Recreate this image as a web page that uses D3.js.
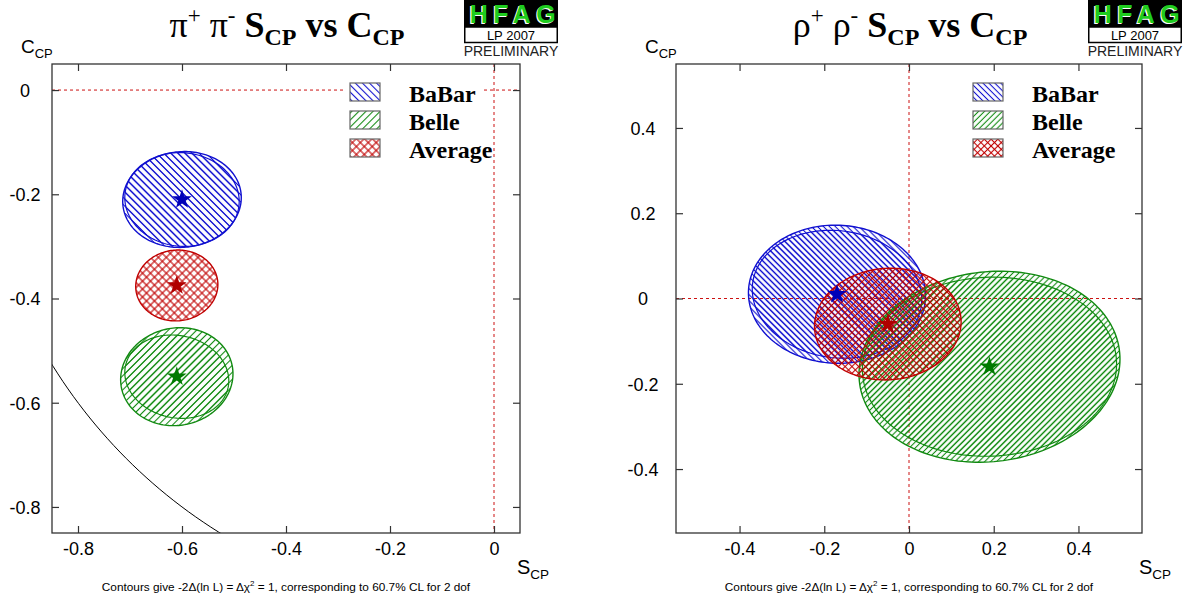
<!DOCTYPE html>
<html><head><meta charset="utf-8">
<script src="https://cdn.jsdelivr.net/npm/d3@7"></script>
<style>body{margin:0;background:#fff} svg{display:block}</style>
</head><body><svg id="c" width="1190" height="602"></svg>
<script>
// ---------------- data ----------------
const experiments = ["BaBar", "Belle", "Average"];
const expColors = ["#1010d0", "#118a11", "#c00000"];
const starColors = ["#0000b8", "#007a00", "#b00000"];

// pi+ pi- : central values, total and statistical errors, correlation
const pipiS = [-0.60, -0.61, -0.61];
const pipiC = [-0.21, -0.55, -0.375];
const pipiSigS = [0.114, 0.108, 0.079];
const pipiSigC = [0.092, 0.094, 0.068];
const pipiRho = [0.04, 0.06, 0.03];
const pipiSigSstat = [0.110, 0.100, null];
const pipiSigCstat = [0.090, 0.080, null];
const pipiRhoStat = [-0.04, -0.10, null];

// rho+ rho- : central values, total and statistical errors, correlation
const rhorhoS = [-0.17, 0.19, -0.05];
const rhorhoC = [0.01, -0.16, -0.06];
const rhorhoSigS = [0.209, 0.308, 0.173];
const rhorhoSigC = [0.162, 0.224, 0.131];
const rhorhoRho = [-0.02, 0.08, 0.04];
const rhorhoSigSstat = [0.200, 0.300, null];
const rhorhoSigCstat = [0.150, 0.210, null];
const rhorhoRhoStat = [-0.08, 0.03, null];

// axes
const pipiDomain = [-0.85, 0.05];
const rhorhoDomain = [-0.55, 0.55];
const pipiTicks = [-0.8, -0.6, -0.4, -0.2, 0];
const rhorhoTicks = [-0.4, -0.2, 0, 0.2, 0.4];
const footnote = "Contours give -2\u0394(ln L) = \u0394\u03c7";

// ---------------- drawing ----------------
const svg = d3.select("#c");
const defs = svg.append("defs");

function makeHatch(id, color, size, angle, cross) {
  const p = defs.append("pattern").attr("id", id)
    .attr("patternUnits", "userSpaceOnUse")
    .attr("width", size).attr("height", size)
    .attr("patternTransform", `rotate(${angle})`);
  p.append("line").attr("x1", size / 2).attr("y1", 0).attr("x2", size / 2).attr("y2", size)
    .attr("stroke", color).attr("stroke-width", 1.1);
  if (cross) p.append("line").attr("x1", 0).attr("y1", size / 2).attr("x2", size).attr("y2", size / 2)
    .attr("stroke", color).attr("stroke-width", 1.1);
}
["L", "R"].forEach((k, i) => {
  const s = i === 0 ? 5 : 4.2;
  makeHatch("h0" + k, expColors[0], s, -45, false);
  makeHatch("h1" + k, expColors[1], s, 45, false);
  makeHatch("h2" + k, expColors[2], s + 0.6, 45, true);
});

function ellipsePath(x, y, s0, c0, sS, sC, rho) {
  const pts = d3.range(0, 361, 2).map(t => {
    const a = t * Math.PI / 180;
    return [x(s0 + sS * Math.cos(a)),
            y(c0 + sC * (rho * Math.cos(a) + Math.sqrt(1 - rho * rho) * Math.sin(a)))];
  });
  return d3.line()(pts) + "Z";
}

function panel(cfg) {
  const x = d3.scaleLinear().domain(cfg.domain).range([cfg.x0, cfg.x1]);
  const y = d3.scaleLinear().domain(cfg.domain).range([533, 64]);
  const g = svg.append("g");
  const clipId = "clip" + cfg.k;
  defs.append("clipPath").attr("id", clipId).append("rect")
    .attr("x", cfg.x0).attr("y", 64).attr("width", cfg.x1 - cfg.x0).attr("height", 469);
  const plot = g.append("g").attr("clip-path", `url(#${clipId})`);

  // zero lines
  plot.append("line").attr("x1", cfg.x0).attr("x2", cfg.x1).attr("y1", y(0)).attr("y2", y(0))
    .attr("stroke", "#cc1111").attr("stroke-width", 1).attr("stroke-dasharray", "3,3");
  plot.append("line").attr("y1", 64).attr("y2", 533).attr("x1", x(0)).attr("x2", x(0))
    .attr("stroke", "#cc1111").attr("stroke-width", 1).attr("stroke-dasharray", "3,3");

  // physical boundary S^2 + C^2 = 1
  if (cfg.boundary) {
    const pts = d3.range(180, 271, 1).map(t => [x(Math.cos(t * Math.PI / 180)), y(Math.sin(t * Math.PI / 180))]);
    plot.append("path").attr("d", d3.line()(pts)).attr("fill", "none").attr("stroke", "#000").attr("stroke-width", 1);
  }

  // ellipses
  const d = cfg.data;
  experiments.forEach((e, i) => {
    plot.append("path").attr("d", ellipsePath(x, y, d.S[i], d.C[i], d.sS[i], d.sC[i], d.rho[i]))
      .attr("fill", `url(#h${i}${cfg.k})`).attr("stroke", expColors[i]).attr("stroke-width", 1.4);
    if (d.sSs[i] !== null) {
      plot.append("path").attr("d", ellipsePath(x, y, d.S[i], d.C[i], d.sSs[i], d.sCs[i], d.rhos[i]))
        .attr("fill", `url(#h${i}${cfg.k})`).attr("stroke", expColors[i]).attr("stroke-width", 1.2);
    }
  });
  experiments.forEach((e, i) => {
    plot.append("path").attr("d", d3.symbol(d3.symbolStar, 120)())
      .attr("transform", `translate(${x(d.S[i])},${y(d.C[i])})`)
      .attr("fill", starColors[i]);
  });

  // frame + axes
  const fmt = v => String(v);
  const bottom = g.append("g").attr("transform", "translate(0,533)")
    .call(d3.axisBottom(x).tickValues(cfg.ticks).tickFormat(fmt).tickSizeInner(-7).tickSizeOuter(0).tickPadding(9));
  const top = g.append("g").attr("transform", "translate(0,64)")
    .call(d3.axisTop(x).tickValues(cfg.ticks).tickFormat("").tickSizeInner(-7).tickSizeOuter(0));
  const left = g.append("g").attr("transform", `translate(${cfg.x0},0)`)
    .call(d3.axisLeft(y).tickValues(cfg.ticks).tickFormat(fmt).tickSizeInner(-7).tickSizeOuter(0));
  const right = g.append("g").attr("transform", `translate(${cfg.x1},0)`)
    .call(d3.axisRight(y).tickValues(cfg.ticks).tickFormat("").tickSizeInner(-7).tickSizeOuter(0));
  [bottom, top, left, right].forEach(a => {
    a.select(".domain").remove();
    a.selectAll(".tick line").attr("stroke", "#333").attr("stroke-width", 1.2);
    a.selectAll("text").attr("font-family", "Liberation Sans, Arial, sans-serif").attr("font-size", 18).attr("fill", "#000");
  });
  left.selectAll("text").attr("text-anchor", "middle").attr("x", cfg.ylabX - cfg.x0).attr("dy", "0.35em");
  g.append("rect").attr("x", cfg.x0).attr("y", 64).attr("width", cfg.x1 - cfg.x0).attr("height", 469)
    .attr("fill", "none").attr("stroke", "#333").attr("stroke-width", 1.3);

  // axis titles
  const ct = g.append("text").attr("x", cfg.cX).attr("y", 53).attr("font-family", "Liberation Sans, Arial, sans-serif").attr("font-size", 19);
  ct.append("tspan").text("C");
  ct.append("tspan").attr("font-size", 13).attr("dy", 5).text("CP");
  const st = g.append("text").attr("x", cfg.x1 - 3).attr("y", 574).attr("font-family", "Liberation Sans, Arial, sans-serif").attr("font-size", 20);
  st.append("tspan").text("S");
  st.append("tspan").attr("font-size", 13.5).attr("dy", 5).text("CP");

  // footnote
  const fn = g.append("text").attr("x", (cfg.x0 + cfg.x1) / 2).attr("y", 591).attr("text-anchor", "middle")
    .attr("font-family", "Liberation Sans, Arial, sans-serif").attr("font-size", 11.8);
  fn.append("tspan").text(footnote);
  fn.append("tspan").attr("font-size", 8).attr("dy", -5).text("2");
  fn.append("tspan").attr("dy", 5).text(" = 1, corresponding to 60.7% CL for 2 dof");

  // title
  const tt = g.append("text").attr("x", (cfg.x0 + cfg.x1) / 2 + 1).attr("y", 37).attr("text-anchor", "middle")
    .attr("font-family", "Liberation Serif, Times New Roman, serif").attr("font-size", 36);
  tt.append("tspan").text(cfg.sym);
  tt.append("tspan").attr("font-size", 23).attr("dy", -14).text("+");
  tt.append("tspan").attr("dy", 14).text(" " + cfg.sym);
  tt.append("tspan").attr("font-size", 23).attr("dy", -14).text("-");
  tt.append("tspan").attr("dy", 14).attr("font-weight", "bold").text(" S");
  tt.append("tspan").attr("font-size", 24).attr("dy", 8).attr("font-weight", "bold").text("CP");
  tt.append("tspan").attr("dy", -8).attr("font-weight", "bold").text(" vs C");
  tt.append("tspan").attr("font-size", 24).attr("dy", 8).attr("font-weight", "bold").text("CP");

  // HFAG logo
  const lx = cfg.logoX;
  g.append("rect").attr("x", lx).attr("y", 0).attr("width", 94).attr("height", 27).attr("fill", "#000");
  g.append("text").attr("x", lx + 4.6).attr("y", 24).attr("textLength", 86).attr("lengthAdjust", "spacing")
    .attr("font-family", "Liberation Sans, Arial, sans-serif").attr("font-size", 25).attr("font-weight", "bold").attr("fill", "#fff").text("HFAG");
  g.append("text").attr("x", lx + 5.8).attr("y", 23.4).attr("textLength", 86).attr("lengthAdjust", "spacing")
    .attr("font-family", "Liberation Sans, Arial, sans-serif").attr("font-size", 25).attr("font-weight", "bold").attr("fill", "#1fcc1f").text("HFAG");
  g.append("rect").attr("x", lx + 0.75).attr("y", 27).attr("width", 92.5).attr("height", 15.5).attr("fill", "#fff")
    .attr("stroke", "#000").attr("stroke-width", 1.5);
  g.append("text").attr("x", lx + 47).attr("y", 40).attr("text-anchor", "middle")
    .attr("font-family", "Liberation Sans, Arial, sans-serif").attr("font-size", 13).text("LP 2007");
  g.append("text").attr("x", lx + 47).attr("y", 56).attr("text-anchor", "middle")
    .attr("font-family", "Liberation Sans, Arial, sans-serif").attr("font-size", 14).attr("fill", "#222").text("PRELIMINARY");

  // legend
  g.append("rect").attr("x", cfg.legX - 4).attr("y", 80).attr("width", 138).attr("height", 84).attr("fill", "#fff");
  experiments.forEach((e, i) => {
    const yy = 83 + i * 28;
    g.append("rect").attr("x", cfg.legX).attr("y", yy).attr("width", 30).attr("height", 18)
      .attr("fill", `url(#h${i}${cfg.k})`).attr("stroke", "#666").attr("stroke-width", 1.2);
    g.append("text").attr("x", cfg.legX + 59).attr("y", yy + 19)
      .attr("font-family", "Liberation Serif, Times New Roman, serif").attr("font-weight", "bold")
      .attr("font-size", 24).text(e);
  });
}

panel({
  k: "L", x0: 52, x1: 520, domain: pipiDomain, ticks: pipiTicks, boundary: true,
  ylabX: 25, cX: 21, logoX: 464, legX: 350, sym: "\u03c0",
  data: { S: pipiS, C: pipiC, sS: pipiSigS, sC: pipiSigC, rho: pipiRho,
          sSs: pipiSigSstat, sCs: pipiSigCstat, rhos: pipiRhoStat }
});
panel({
  k: "R", x0: 676, x1: 1142, domain: rhorhoDomain, ticks: rhorhoTicks, boundary: false,
  ylabX: 643, cX: 645, logoX: 1088, legX: 973, sym: "\u03c1",
  data: { S: rhorhoS, C: rhorhoC, sS: rhorhoSigS, sC: rhorhoSigC, rho: rhorhoRho,
          sSs: rhorhoSigSstat, sCs: rhorhoSigCstat, rhos: rhorhoRhoStat }
});
</script></body></html>
